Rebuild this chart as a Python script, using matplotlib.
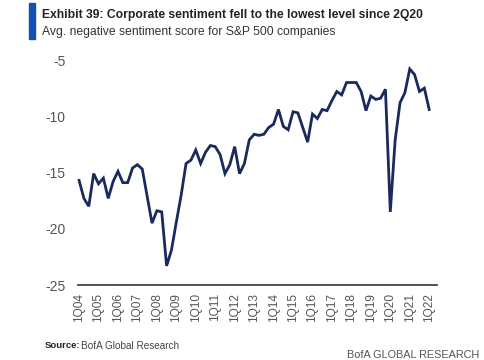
#!/usr/bin/env python3
"""Exhibit 39: corporate sentiment score for S&P 500 companies."""

import matplotlib

matplotlib.use("Agg")
import matplotlib.pyplot as plt

# quarterly series, 1Q04 .. 1Q22
START_YEAR = 2004
SENTIMENT = [
    -15.7, -17.3, -18.0, -15.1,   # 2004
    -16.0, -15.5, -17.3, -15.8,   # 2005
    -14.9, -15.9, -15.9, -14.6,   # 2006
    -14.3, -14.7, -17.1, -19.5,   # 2007
    -18.4, -18.5, -23.3, -21.9,   # 2008
    -19.4, -17.0, -14.2, -13.9,   # 2009
    -13.0, -14.2, -13.2, -12.6,   # 2010
    -12.7, -13.4, -15.1, -14.3,   # 2011
    -12.7, -15.1, -14.2, -12.1,   # 2012
    -11.6, -11.7, -11.6, -11.0,   # 2013
    -10.7, -9.4, -10.9, -11.2,    # 2014
    -9.6, -9.7, -11.0, -12.3,     # 2015
    -9.8, -10.2, -9.4, -9.5,      # 2016
    -8.6, -7.8, -8.1, -7.0,       # 2017
    -7.0, -7.0, -7.8, -9.5,       # 2018
    -8.2, -8.5, -8.4, -7.6,       # 2019
    -18.5, -12.1, -8.8, -7.9,     # 2020
    -5.8, -6.3, -7.8, -7.5,       # 2021
    -9.4,                         # 2022
]
Y_TICKS = [-25, -20, -15, -10, -5]

TITLE = "Exhibit 39: Corporate sentiment fell to the lowest level since 2Q20"
SUBTITLE = "Avg. negative sentiment score for S&P 500 companies"

NAVY = "#1b2a5c"
GREY = "#555555"

plt.rcParams["font.family"] = ["Liberation Sans", "DejaVu Sans"]


def main():
    fig = plt.figure(figsize=(4.85, 3.6), dpi=100)
    ax = fig.add_axes([0.161, 0.2083, 0.740, 0.625])

    xs = list(range(len(SENTIMENT)))
    ax.plot(xs, SENTIMENT, c=NAVY, lw=2.0, solid_joinstyle="miter", clip_on=False)

    ticks = xs[::4]
    labels = [f"1Q{(START_YEAR + i // 4) % 100:02d}" for i in ticks]
    ax.set_xticks(ticks)
    ax.set_xticklabels(labels, rotation=90, fontsize=8.6, color=GREY)
    ax.set_xlim(-0.2, 73.6)

    ax.set_yticks(Y_TICKS)
    ax.set_yticklabels([str(v) for v in Y_TICKS], fontsize=10, color=GREY)
    ax.set_ylim(-25, -5)

    ax.tick_params(axis="both", length=0)
    ax.tick_params(axis="x", pad=6)
    ax.tick_params(axis="y", pad=9)
    for side in ("top", "right", "left"):
        ax.spines[side].set_visible(False)
    ax.spines["bottom"].set_color("#444444")
    ax.spines["bottom"].set_linewidth(1.3)

    # header
    fig.patches.append(plt.Rectangle((29 / 485, 1 - 39 / 360), 6 / 485, 36 / 360,
                                     transform=fig.transFigure, color="#1450b4"))
    fig.text(42 / 485, 1 - 15 / 360, TITLE, fontsize=8.75, fontweight="bold",
             color="#222222", va="center", ha="left")
    fig.text(42 / 485, 1 - 32 / 360, SUBTITLE, fontsize=8.7,
             color="#333333", va="center", ha="left")

    # footer
    fig.text(45 / 485, 1 - 346 / 360, "Source:", fontsize=6.8, fontweight="bold",
             color="#222222", va="center", ha="left")
    fig.text(81 / 485, 1 - 346 / 360, "BofA Global Research", fontsize=7.2,
             color="#444444", va="center", ha="left")
    fig.text(347 / 485, 0.0, "BofA GLOBAL RESEARCH", fontsize=7.8,
             color="#555555", va="bottom", ha="left")

    fig.savefig("out.png", dpi=100)


if __name__ == "__main__":
    main()
